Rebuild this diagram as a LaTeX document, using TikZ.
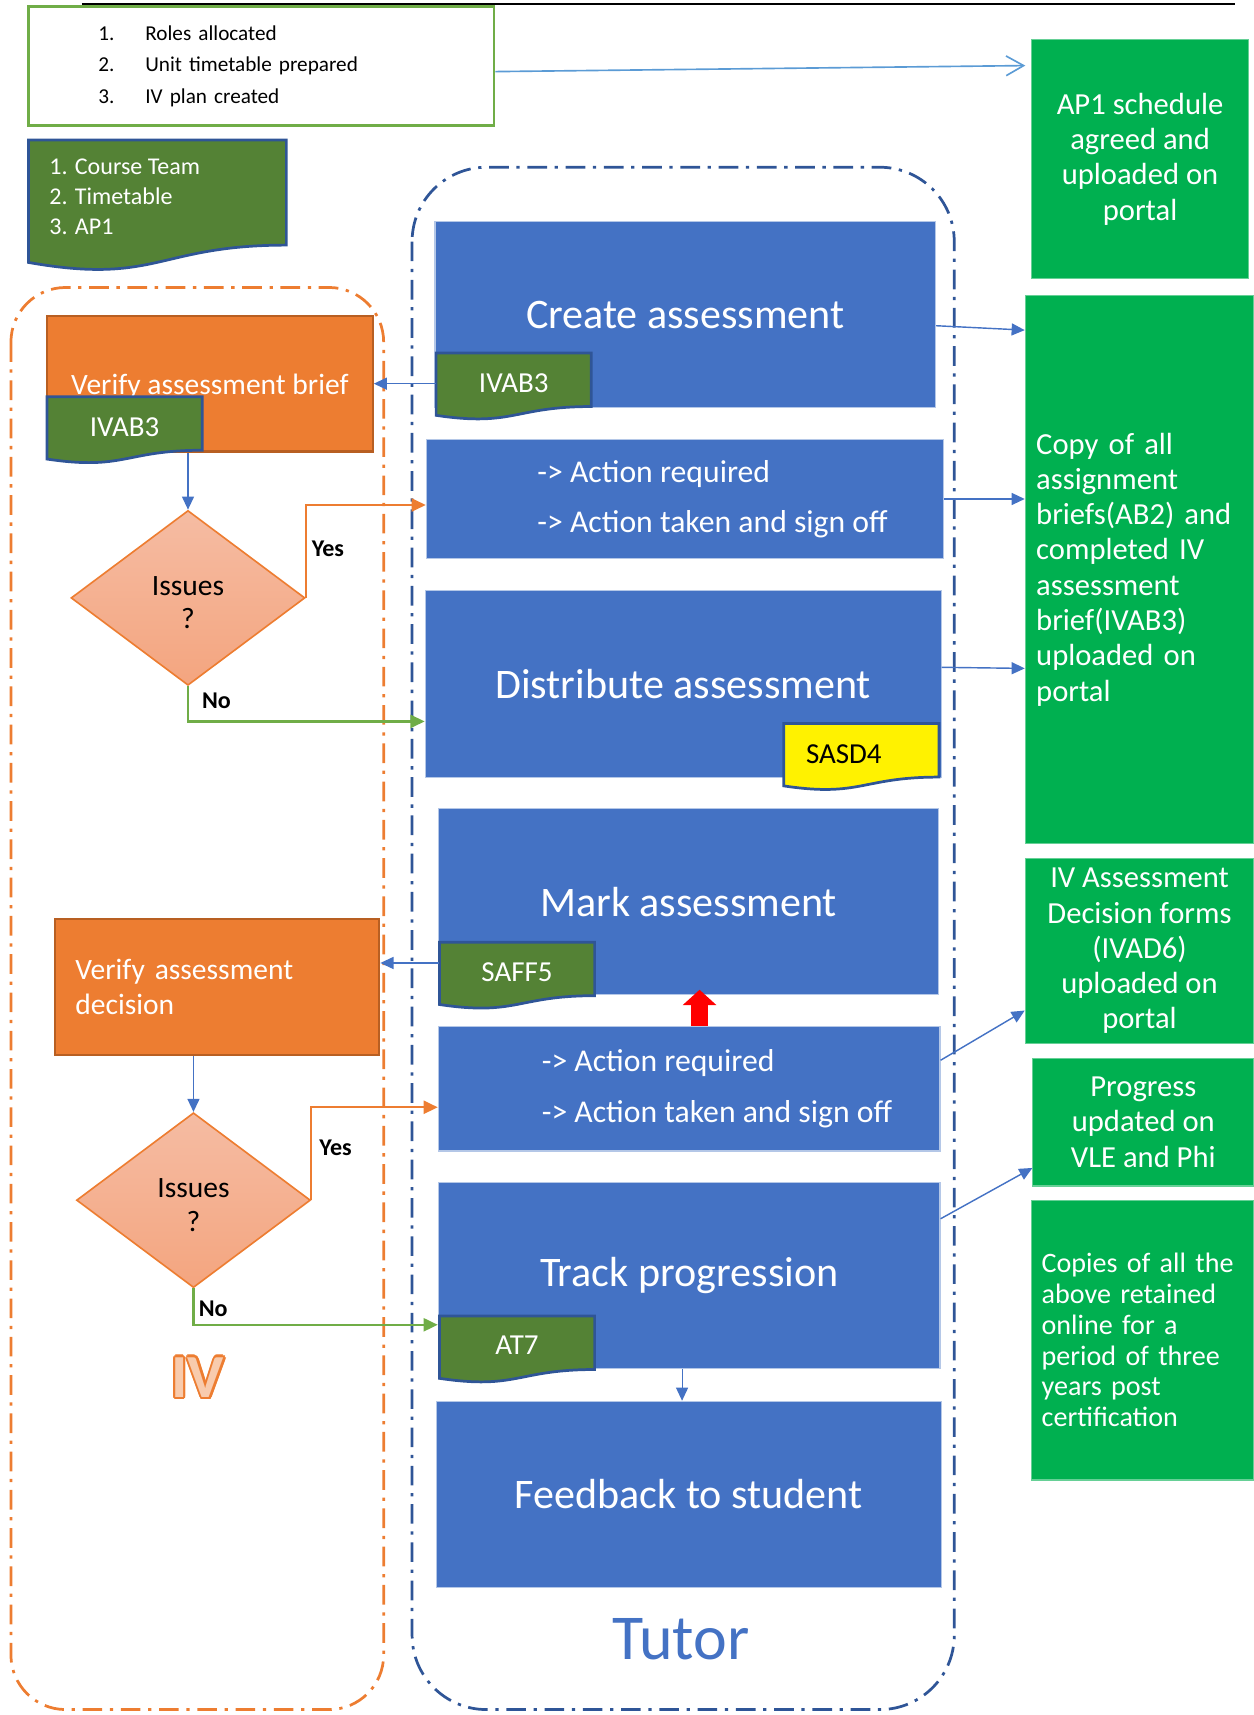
\documentclass[tikz,border=0pt]{standalone}
\usepackage{fontspec}
\setmainfont{Carlito}
\usetikzlibrary{arrows.meta,positioning,shapes.geometric}

\definecolor{boxblue}{HTML}{4472C4}
\definecolor{boxedge}{HTML}{B4C7E7}
\definecolor{docgreen}{HTML}{548235}
\definecolor{docedge}{HTML}{2F5597}
\definecolor{ivorange}{HTML}{ED7D31}
\definecolor{ivedge}{HTML}{B85F22}
\definecolor{portal}{HTML}{00B050}
\definecolor{listgreen}{HTML}{70AD47}
\definecolor{laneblue}{HTML}{2F5597}
\definecolor{issuetop}{HTML}{F5BCA3}
\definecolor{issuebot}{HTML}{F4A57F}
\definecolor{ivfill}{HTML}{F8CBAD}
\definecolor{barb}{HTML}{5B9BD5}

\newcommand{\setfs}[2]{\fontsize{#1}{#2}\selectfont}
% document shape: x, y (top left), width, height, fill
\newcommand{\docshape}[5]{%
  \draw[draw=docedge, line width=2.5pt, fill=#5] (#1,#2) -- (#1+#3,#2) -- (#1+#3,#2+0.802*#4)
    .. controls (#1+0.5*#3,#2+0.802*#4) and (#1+0.5*#3,#2+1.108*#4) .. (#1,#2+0.934*#4) -- cycle;}

\begin{document}
\begin{tikzpicture}[x=1pt, y=-1pt,
  bluebox/.style = {rectangle, fill=boxblue, draw=boxedge, line width=1pt, text=white, inner sep=0pt, font=\setfs{38.5}{44}},
  actbox/.style = {rectangle, fill=boxblue, draw=boxedge, line width=1pt, inner sep=0pt},
  acttext/.style = {text=white, inner sep=0pt, align=left, font=\setfs{29}{46}},
  ivbox/.style = {rectangle, fill=ivorange, draw=ivedge, line width=2pt, text=white, font=\setfs{27}{32}},
  issue/.style = {diamond, draw=ivorange, line width=1.5pt, top color=issuetop, bottom color=issuebot, minimum width=214pt, minimum height=160pt, inner sep=0pt, align=center, font=\setfs{27}{31}},
  portalbox/.style = {rectangle, fill=portal, draw=portal!60!white, line width=1pt, text=white, inner sep=0pt, font=\setfs{28}{32.3}},
  tagtext/.style = {text=white, inner sep=0pt, minimum width=142pt, font=\setfs{26.5}{30}},
  answer/.style = {inner sep=0pt, font=\bfseries\setfs{22}{26}},
  ivword/.style = {inner sep=0pt, font=\bfseries\setfs{56}{58}},
  flow/.style = {draw=boxblue, line width=1.3pt, -{Triangle[length=12pt,width=11pt]}},
  yesflow/.style = {draw=ivorange, line width=2pt, -{Triangle[length=13pt,width=12pt]}},
  noflow/.style = {draw=listgreen, line width=2pt, -{Triangle[length=13pt,width=12pt]}},
  ivlane/.style = {draw=ivorange, line width=2.5pt, rounded corners=50pt, dash pattern=on 18pt off 7pt on 3pt off 7pt},
  tutorlane/.style = {draw=laneblue, line width=2.5pt, rounded corners=68pt, dash pattern=on 18pt off 7pt on 3pt off 7pt}]
	\useasboundingbox (0,0) rectangle (1147,1569);
	\draw[line width=2pt] (75,4) -- (1130,4);

	% lanes
	\draw[ivlane] (10,263) rectangle (351,1564);
	\draw[tutorlane] (377,153) rectangle (873,1564);

	% planning
	\node[draw=listgreen, line width=2.5pt, minimum width=426pt, minimum height=109pt, inner xsep=64pt, text width=298pt, align=left, font=\setfs{19.4}{29}] (plan) at (239,60.5)
		{\makebox[43pt][l]{1.}Roles allocated\\\makebox[43pt][l]{2.}Unit timetable prepared\\\makebox[43pt][l]{3.}IV plan created};
	\docshape{26}{128}{236}{120}{docgreen}
	\node[anchor=west, text=white, align=left, inner sep=0pt, font=\setfs{22}{27.5}] (team) at (45,180) {1. Course Team\\2. Timetable\\3. AP1};

	% tutor
	\node[bluebox, minimum width=458pt, minimum height=170pt] (create) at (627,288) {Create assessment};
	\node[actbox, minimum width=473pt, minimum height=109pt] (act1) at (626.5,456.5) {};
	\node[acttext, right=102pt of act1.west] (act1txt) {-> Action required\\-> Action taken and sign off};
	\node[bluebox, minimum width=472pt, minimum height=171pt] (dist) at (625,625.5) {Distribute assessment};
	\node[bluebox, minimum width=458pt, minimum height=170pt] (mark) at (630,825) {Mark assessment};
	\node[actbox, minimum width=459pt, minimum height=114pt] (act2) at (630.5,996) {};
	\node[acttext, right=95pt of act2.west] (act2txt) {-> Action required\\-> Action taken and sign off};
	\node[bluebox, minimum width=459pt, minimum height=170pt] (track) at (630.5,1167) {Track progression};
	\node[bluebox, minimum width=462pt, minimum height=170pt] (feedback) at (630,1367) {Feedback to student};
	\node[text=boxblue, inner sep=0pt, font=\setfs{58.5}{60}] (tutor) at (623,1500) {Tutor};

	% IV
	\node[ivbox, minimum width=298pt, minimum height=124pt] (vbrief) at (192,351) {\rule{0pt}{25pt}Verify assessment brief};
	\node[ivbox, minimum width=297pt, minimum height=124pt, inner xsep=19pt, text width=259pt, align=left] (vdec) at (198.5,903) {Verify assessment\\decision};
	\node[issue] (d1) at (172,547) {\rule{0pt}{26pt}Issues\\?};
	\node[issue] (d2) at (177,1098) {\rule{0pt}{26pt}Issues\\?};
	\node[answer] (yes1) at (300,502) {Yes};
	\node[answer] (no1) at (198,641) {No};
	\node[answer] (yes2) at (307,1050) {Yes};
	\node[answer] (no2) at (195,1197) {No};
	\foreach \a in {0,30,...,330}
		\node[ivword, text=ivorange, shift={(\a:2)}] (ivcopy\a) at (181,1260) {IV};
	\node[ivword, text=ivfill] (ivlabel) at (181,1260) {IV};

	% forms
	\docshape{399}{323}{142}{61}{docgreen}
	\node[tagtext] (tagcreate) at (470,351) {IVAB3};
	\docshape{43}{363}{142}{61}{docgreen}
	\node[tagtext] (tagbrief) at (114,391) {IVAB3};
	\docshape{717}{662}{142}{61}{yellow}
	\node[tagtext, text=black, minimum width=0pt] (tagdist) at (772,690) {SASD4};
	\docshape{402}{862}{142}{61}{docgreen}
	\node[tagtext] (tagmark) at (473,889) {SAFF5};
	\docshape{402}{1204}{142}{61}{docgreen}
	\node[tagtext] (tagtrack) at (473,1231) {AT7};

	% portal
	\node[portalbox, minimum width=198pt, minimum height=219pt, align=center] (ap1) at (1043,145.5) {AP1 schedule\\agreed and\\uploaded on\\portal};
	\node[portalbox, minimum width=209pt, minimum height=502pt, inner xsep=10pt, text width=189pt, align=left] (copy) at (1042.5,521)
		{Copy of all\\assignment\\briefs(AB2) and\\completed IV\\assessment\\brief(IVAB3)\\uploaded on\\portal};
	\node[portalbox, minimum width=209pt, minimum height=170pt, align=center] (ivad) at (1042.5,870) {IV Assessment\\Decision forms\\(IVAD6)\\uploaded on\\portal};
	\node[portalbox, minimum width=202pt, minimum height=117pt, align=center] (progress) at (1046,1026.5) {Progress\\updated on\\VLE and Phi};
	\node[portalbox, minimum width=203pt, minimum height=256pt, inner xsep=9pt, text width=185pt, align=left, font=\setfs{25.7}{28.2}] (copies) at (1045.5,1226)
		{Copies of all the\\above retained\\online for a\\period of three\\years post\\certification};

	% connectors
	\coordinate (ap1in) at (938,60);
	\draw[draw=barb, line width=1.5pt, -{Straight Barb[length=16pt,width=18pt]}] ([yshift=-5pt]plan.east) -- (ap1in);
	\draw[flow] ([yshift=-10pt]create.east) -- ([yshift=-14pt]create.east -| copy.west);
	\draw[flow] (act1.east) -- (act1.east -| copy.west);
	\draw[flow] ([yshift=15pt]dist.east) -- ([yshift=14pt]dist.east -| copy.west);
	\draw[flow] ([yshift=26pt]act2.east) -- ([yshift=31pt]ivad.south west);
	\draw[flow] ([yshift=52pt]track.east) -- ([yshift=17pt]progress.south west);
	\draw[flow] (tagcreate.west) -- (tagcreate.west -| vbrief.east);
	\draw[flow] (vbrief.south -| d1.north) -- (d1.north);
	\draw[yesflow] (d1.east) |- ([yshift=-5.5pt]act1.west);
	\draw[noflow] (d1.south) |- ([yshift=-34.5pt]dist.west);
	\draw[flow] ([yshift=8pt]tagmark.west) -- ([yshift=8pt]tagmark.west -| vdec.east);
	\draw[flow] (vdec.south -| d2.north) -- (d2.north);
	\draw[yesflow] (d2.east) |- ([yshift=-17pt]act2.west);
	\draw[noflow] (d2.south) |- ([yshift=-45pt]track.west);
	\draw[red, line width=16pt, shorten >=-5pt, -{Triangle[length=14pt,width=30pt]}] ([xshift=9.5pt]act2.north) -- ([xshift=9.5pt]act2.north |- mark.south);
	\draw[flow, line width=1pt] ([xshift=-6.5pt]track.south) -- ([xshift=-6.5pt]track.south |- feedback.north);
\end{tikzpicture}
\end{document}
